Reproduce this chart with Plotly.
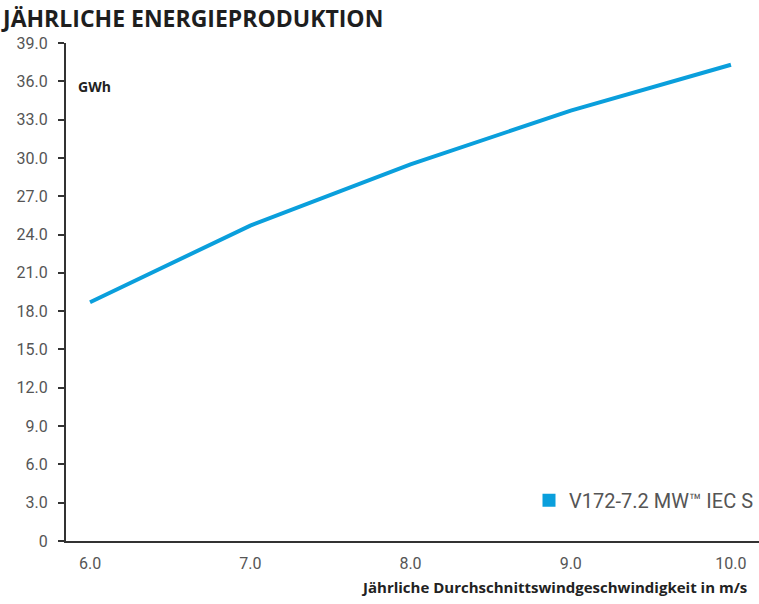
import plotly.graph_objects as go

# annual average wind speed (m/s) vs annual energy production (GWh)
wind_speed = [6.0, 7.0, 8.0, 9.0, 10.0]
energy_gwh = [18.7, 24.7, 29.5, 33.7, 37.3]

y_ticks = [0, 3, 6, 9, 12, 15, 18, 21, 24, 27, 30, 33, 36, 39]
y_tick_text = ["0", "3.0", "6.0", "9.0", "12.0", "15.0", "18.0", "21.0", "24.0",
               "27.0", "30.0", "33.0", "36.0", "39.0"]
x_ticks = [6, 7, 8, 9, 10]
x_tick_text = ["6.0", "7.0", "8.0", "9.0", "10.0"]

series_name = "V172-7.2 MW™ IEC S"
blue = "#0a9fdc"
font = "Roboto"
bold_font = "Open Sans"

fig = go.Figure()

fig.add_trace(go.Scatter(x=wind_speed, y=energy_gwh, mode="lines",
                         line=dict(color=blue, width=4),
                         showlegend=False))
# legend entry with a square swatch
fig.add_trace(go.Scatter(x=[None], y=[None], mode="markers",
                         marker=dict(symbol="square", size=13, color=blue),
                         name=series_name))

fig.add_annotation(text="<b>GWh</b>", xref="paper", yref="y",
                   x=0.015, y=35.6, xanchor="left", showarrow=False,
                   font=dict(family=bold_font, size=14, color="#222"))
fig.add_annotation(text="<b>Jährliche Durchschnittswindgeschwindigkeit in m/s</b>",
                   xref="paper", yref="paper", x=0.985, y=-0.092,
                   xanchor="right", yanchor="middle", showarrow=False,
                   font=dict(family=bold_font, size=15, color="#222"))

fig.update_layout(
    width=759, height=604,
    margin=dict(l=66, r=0, t=43, b=63),
    paper_bgcolor="white", plot_bgcolor="white",
    font=dict(family=font, color="#555"),
    title=dict(text="<b>JÄHRLICHE ENERGIEPRODUKTION</b>", x=0.004, xanchor="left",
               y=0.968, yanchor="middle",
               font=dict(family=bold_font, size=23, color="#1e1e1e")),
    xaxis=dict(range=[5.85, 10.175], tickvals=x_ticks, ticktext=x_tick_text,
               showgrid=False, zeroline=False, showline=True,
               linecolor="#333", linewidth=2, ticks="", ticklabelstandoff=7,
               tickfont=dict(family=font, size=16, color="#555")),
    yaxis=dict(range=[0, 39], tickvals=y_ticks, ticktext=y_tick_text,
               showgrid=False, zeroline=False, showline=True,
               linecolor="#333", linewidth=2, ticks="outside", ticklen=6,
               tickcolor="#333", tickwidth=1.5, ticklabelstandoff=7,
               tickfont=dict(family=font, size=16, color="#555")),
    legend=dict(x=1.0, y=0.082, xanchor="right", yanchor="middle",
                bgcolor="rgba(0,0,0,0)", itemwidth=30,
                font=dict(family=font, size=20, color="#555")),
)

fig.write_html("out.html", config={"displayModeBar": False},
               post_script="document.body.style.margin='0';")
